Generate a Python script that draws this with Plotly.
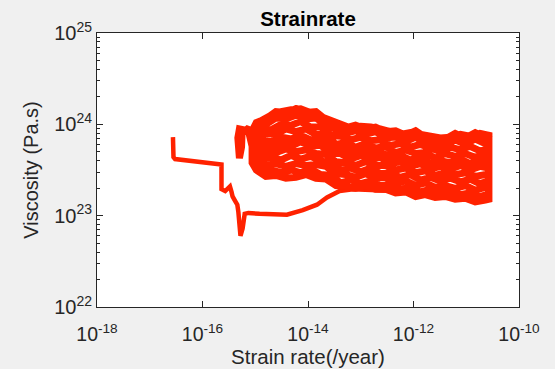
import numpy as np
import plotly.graph_objects as go

# Values, stored as log10 exponents
# (strain rate in 1/year, viscosity in Pa.s)

# early branch on the left, then the low trail into the main cloud
tail_log_rate = [-16.56, -16.56, -16.55, -16.52, -16.21, -15.93, -15.69, -15.64, -15.64, -15.65, -15.64,
                 -15.57, -15.48, -15.45, -15.43, -15.38, -15.34, -15.32, -15.31, -15.30, -15.28, -15.28,
                 -15.24, -15.21, -15.20, -15.13, -14.92, -14.40, -14.10, -13.83, -13.64, -13.40, -13.15,
                 -12.80, -12.40, -12.00, -11.60, -11.20, -10.90, -10.58]
tail_log_visc = [23.86, 23.75, 23.64, 23.62, 23.60, 23.58, 23.57, 23.56, 23.50, 23.40, 23.29,
                 23.27, 23.32, 23.26, 23.21, 23.16, 23.12, 23.04, 22.97, 22.90, 22.84, 22.78,
                 22.86, 22.97, 23.02, 23.03, 23.02, 23.01, 23.06, 23.12, 23.20, 23.27, 23.29,
                 23.28, 23.27, 23.24, 23.22, 23.20, 23.18, 23.20]

# strain-rate samples of the scribbled cloud (left-to-right and right-to-left sweeps)
sweep_right_log_rate = [-15.06, -14.98, -14.80, -14.61, -14.42, -14.23, -14.04, -13.85, -13.66, -13.47,
                        -13.29, -13.10, -12.91, -12.72, -12.53, -12.34, -12.15, -11.96, -11.78, -11.59,
                        -11.40, -11.21, -11.02, -10.83, -10.64, -10.57]
sweep_left_log_rate = [-10.57, -10.74, -10.93, -11.11, -11.30, -11.49, -11.68, -11.87, -12.06, -12.25,
                       -12.44, -12.63, -12.81, -13.00, -13.19, -13.38, -13.57, -13.76, -13.95, -14.14,
                       -14.32, -14.51, -14.70, -14.89, -15.00, -15.06]

# viscosity along each sweep
sweep_b1_log_visc = [23.88, 23.90, 23.87, 23.89, 23.86, 23.85, 23.87, 23.90, 23.91, 23.89, 23.93, 23.95, 23.97,
                     23.98, 23.96, 24.00, 24.04, 24.10, 24.14, 24.17, 24.16, 24.14, 24.10, 24.04, 23.96, 23.90]
sweep_a1_log_visc = [23.58, 23.50, 23.43, 23.44, 23.41, 23.42, 23.45, 23.41, 23.40, 23.33, 23.32, 23.30, 23.33,
                     23.29, 23.29, 23.25, 23.26, 23.21, 23.23, 23.20, 23.21, 23.18, 23.19, 23.15, 23.17, 23.18]
sweep_b2_log_visc = [23.73, 23.71, 23.76, 23.72, 23.75, 23.70, 23.74, 23.78, 23.75, 23.79, 23.77, 23.83, 23.82,
                     23.86, 23.83, 23.87, 23.88, 23.97, 23.97, 24.03, 23.99, 24.00, 23.94, 23.94, 23.87, 23.86]
sweep_a2_log_visc = [23.64, 23.60, 23.55, 23.57, 23.54, 23.57, 23.55, 23.56, 23.54, 23.46, 23.45, 23.42, 23.46,
                     23.41, 23.42, 23.36, 23.38, 23.33, 23.36, 23.31, 23.33, 23.30, 23.33, 23.28, 23.31, 23.30]
sweep_b3_log_visc = [23.59, 23.61, 23.57, 23.62, 23.58, 23.60, 23.57, 23.64, 23.61, 23.66, 23.64, 23.70, 23.68,
                     23.73, 23.70, 23.74, 23.75, 23.84, 23.83, 23.88, 23.84, 23.86, 23.81, 23.83, 23.78, 23.80]
sweep_a3_log_visc = [23.72, 23.68, 23.71, 23.69, 23.73, 23.70, 23.72, 23.68, 23.67, 23.59, 23.58, 23.55, 23.59,
                     23.55, 23.55, 23.50, 23.52, 23.47, 23.49, 23.44, 23.47, 23.45, 23.47, 23.43, 23.45, 23.44]
sweep_b4_log_visc = [23.24, 23.21, 23.25, 23.23, 23.27, 23.24, 23.29, 23.26, 23.31, 23.29, 23.34, 23.33, 23.38,
                     23.35, 23.39, 23.36, 23.44, 23.45, 23.51, 23.47, 23.50, 23.47, 23.50, 23.50, 23.58, 23.61]
sweep_a4_log_visc = [23.92, 23.98, 24.00, 24.07, 24.06, 24.10, 24.06, 24.07, 23.99, 23.95, 23.90, 23.93, 23.89,
                     23.92, 23.85, 23.86, 23.81, 23.86, 23.79, 23.78, 23.77, 23.83, 23.78, 23.84, 23.79, 23.81]
sweep_b5_log_visc = [23.38, 23.35, 23.40, 23.37, 23.41, 23.38, 23.42, 23.39, 23.45, 23.42, 23.47, 23.46, 23.52,
                     23.48, 23.52, 23.50, 23.58, 23.60, 23.65, 23.62, 23.66, 23.61, 23.64, 23.62, 23.67, 23.69]
sweep_a5_log_visc = [23.84, 23.83, 23.90, 23.89, 23.95, 23.92, 23.95, 23.89, 23.89, 23.78, 23.80, 23.75, 23.79,
                     23.74, 23.76, 23.69, 23.72, 23.68, 23.69, 23.63, 23.68, 23.65, 23.68, 23.64, 23.67, 23.66]
sweep_b6_log_visc = [23.52, 23.54, 23.50, 23.55, 23.51, 23.54, 23.51, 23.57, 23.54, 23.59, 23.57, 23.64, 23.61,
                     23.66, 23.62, 23.68, 23.68, 23.77, 23.76, 23.81, 23.76, 23.79, 23.74, 23.77, 23.73, 23.76]
sweep_a6_log_visc = [23.93, 24.02, 24.06, 24.14, 24.13, 24.17, 24.13, 24.14, 24.05, 24.02, 23.96, 23.99, 23.95,
                     23.97, 23.92, 23.93, 23.88, 23.93, 23.86, 23.85, 23.84, 23.90, 23.85, 23.91, 23.86, 23.88]

# narrow strip at the left edge of the cloud
strip_log_rate = [-15.13, -15.30, -15.33, -15.33, -15.30, -15.26, -15.25, -15.15]
strip_log_visc = [23.93, 23.95, 23.85, 23.70, 23.63, 23.75, 23.90, 23.95]

x_tick_exps = [-18, -16, -14, -12, -10]
y_tick_exps = [22, 23, 24, 25]
minor_mantissas = [2, 3, 4, 5, 6, 7, 8, 9]

# assemble the cloud trajectory in time order
rate_parts, visc_parts = [], []
for left_visc, right_visc in [(sweep_b1_log_visc, sweep_a1_log_visc), (sweep_b2_log_visc, sweep_a2_log_visc),
                              (sweep_b3_log_visc, sweep_a3_log_visc), (sweep_b4_log_visc, sweep_a4_log_visc),
                              (sweep_b5_log_visc, sweep_a5_log_visc)]:
    rate_parts += [sweep_left_log_rate, sweep_right_log_rate]
    visc_parts += [left_visc, right_visc]
rate_parts += [sweep_left_log_rate, strip_log_rate, sweep_right_log_rate]
visc_parts += [sweep_b6_log_visc, strip_log_visc, sweep_a6_log_visc]

tail_rate = 10 ** np.array(tail_log_rate)
tail_visc = 10 ** np.array(tail_log_visc)
cloud_rate = 10 ** np.concatenate([[tail_log_rate[-1]]] + rate_parts)
cloud_visc = 10 ** np.concatenate([[tail_log_visc[-1]]] + visc_parts)

red = "#ff2200"
axis_color = "#262626"
font_family = "Liberation Sans, Arial, Helvetica, sans-serif"

fig = go.Figure()
fig.add_trace(go.Scatter(
    x=tail_rate, y=tail_visc, mode="lines",
    line=dict(color=red, width=4.5),
    showlegend=False, hoverinfo="skip",
))
fig.add_trace(go.Scatter(
    x=cloud_rate, y=cloud_visc, mode="lines",
    line=dict(color=red, width=7),
    showlegend=False, hoverinfo="skip",
))

fig.update_layout(
    width=555, height=369,
    margin=dict(l=97, r=36, t=33, b=62),
    paper_bgcolor="#f0f0f0", plot_bgcolor="#ffffff",
    font=dict(family=font_family, color=axis_color, size=19.5),
    title=dict(text="<b>Strainrate</b>", x=0.5, xref="paper", xanchor="center",
               y=1 - 18.5 / 369, yref="container", yanchor="middle",
               font=dict(size=20.5, color="#000000", family=font_family)),
)

fig.update_xaxes(
    type="log", range=[-18, -10], automargin=False,
    tickvals=[10.0 ** e for e in x_tick_exps],
    ticktext=[f"10<sup>{e}</sup>" for e in x_tick_exps],
    tickfont=dict(size=19.5, color=axis_color),
    ticks="inside", ticklen=6, tickcolor=axis_color, tickwidth=1,
    ticklabelstandoff=10,
    showline=True, linecolor=axis_color, linewidth=1, mirror="ticks",
    showgrid=False, zeroline=False,
    title=dict(text="Strain rate(/year)", font=dict(size=20.5, color=axis_color), standoff=5),
)
fig.update_yaxes(
    type="log", range=[22, 25], automargin=False,
    tickvals=[10.0 ** e for e in y_tick_exps],
    ticktext=[f"10<sup>{e}</sup>" for e in y_tick_exps],
    tickfont=dict(size=20, color=axis_color),
    ticks="inside", ticklen=6, tickcolor=axis_color, tickwidth=1,
    ticklabelstandoff=0,
    showline=True, linecolor=axis_color, linewidth=1, mirror="ticks",
    showgrid=False, zeroline=False,
    minor=dict(ticks="inside", ticklen=3, tickcolor=axis_color, showgrid=False,
               tickmode="array",
               tickvals=[m * 10.0 ** e for e in y_tick_exps[:-1] for m in minor_mantissas]),
    title=dict(text="Viscosity (Pa.s)", font=dict(size=20, color=axis_color), standoff=10),
)

fig.write_html("out.html", config={"displayModeBar": False},
               post_script="document.body.style.margin='0';")
